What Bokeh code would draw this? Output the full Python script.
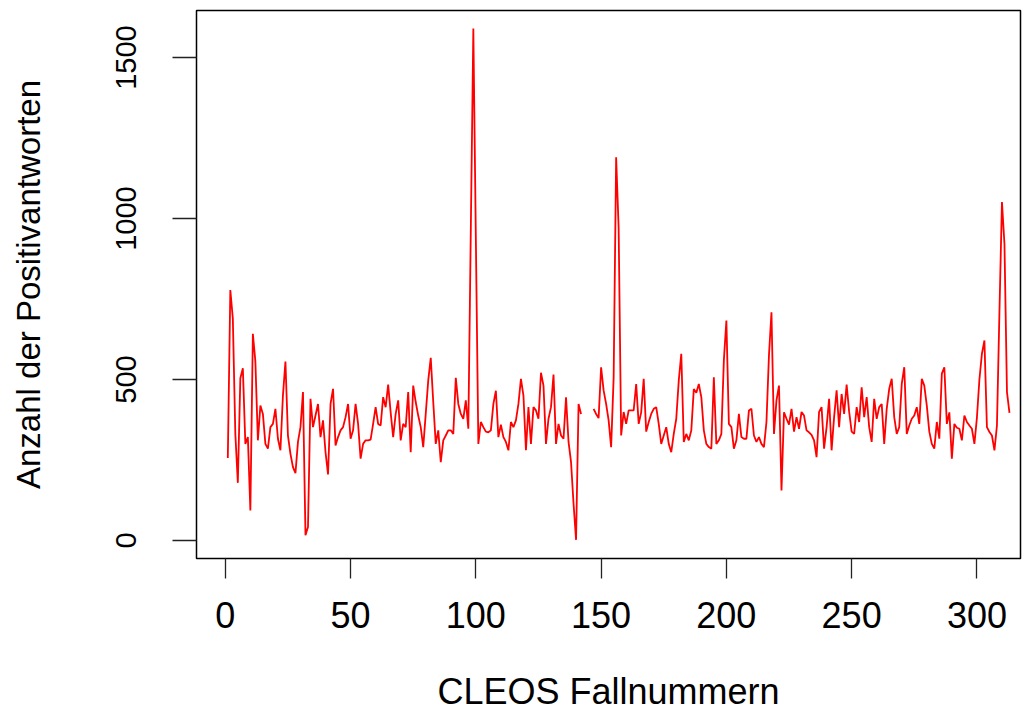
from bokeh.plotting import figure
from bokeh.models import FixedTicker, ColumnDataSource
from bokeh.embed import file_html
from bokeh.resources import INLINE

NaN = float("nan")

case_numbers = list(range(1, 314))
positive_answers = [
    256, 778, 690, 331, 179, 504, 535, 300, 321, 93,
    642, 556, 311, 419, 393, 300, 285, 352, 362, 409,
    316, 280, 450, 556, 326, 269, 228, 209, 306, 352,
    461, 16, 42, 440, 352, 388, 424, 321, 373, 274,
    205, 424, 471, 295, 321, 342, 352, 383, 424, 316,
    342, 424, 362, 254, 300, 311, 311, 313, 362, 414,
    362, 357, 445, 414, 484, 398, 321, 393, 435, 311,
    362, 352, 461, 274, 481, 430, 388, 352, 290, 393,
    497, 567, 430, 300, 342, 243, 311, 326, 342, 342,
    331, 505, 424, 393, 378, 435, 347, 970, 1590, 940,
    300, 368, 352, 338, 336, 342, 424, 465, 321, 360,
    321, 306, 280, 368, 352, 373, 424, 502, 450, 280,
    414, 300, 414, 404, 378, 521, 481, 300, 378, 414,
    515, 300, 362, 326, 316, 445, 306, 243, 114, 2,
    424, 393, NaN, NaN, NaN, NaN, 409, 393, 380, 538,
    466, 424, 373, 290, 505, 1190, 970, 326, 399, 362,
    404, 404, 404, 486, 362, 398, 502, 338, 368, 393,
    409, 414, 362, 300, 326, 352, 300, 274, 331, 378,
    497, 580, 306, 331, 311, 342, 470, 459, 486, 445,
    342, 300, 290, 285, 507, 300, 311, 331, 560, 683,
    362, 352, 285, 311, 393, 321, 316, 316, 404, 409,
    326, 306, 321, 300, 290, 368, 575, 709, 331, 435,
    481, 155, 398, 378, 360, 409, 338, 383, 347, 399,
    388, 342, 336, 328, 311, 259, 399, 414, 285, 352,
    440, 280, 383, 466, 352, 455, 393, 484, 400, 338,
    331, 414, 368, 476, 383, 445, 352, 306, 440, 378,
    414, 424, 300, 409, 471, 502, 383, 331, 352, 486,
    538, 331, 357, 378, 388, 414, 362, 502, 481, 419,
    338, 300, 285, 368, 316, 518, 538, 362, 398, 254,
    362, 350, 347, 311, 388, 368, 357, 347, 300, 381,
    500, 580, 621, 352, 337, 326, 280, 357, 712, 1051,
    921, 461, 396,
]

x_ticks = [0, 50, 100, 150, 200, 250, 300]
y_ticks = [0, 500, 1000, 1500]
x_title = "CLEOS Fallnummern"
y_title = "Anzahl der Positivantworten"

source = ColumnDataSource(data=dict(x=case_numbers, y=positive_answers))

p = figure(
    width=1028, height=715,
    x_range=(-11.5, 317.4), y_range=(-56, 1646),
    output_backend="svg", toolbar_location=None,
    min_border_left=196, min_border_right=8,
    min_border_top=10, min_border_bottom=157,
    background_fill_color="white", border_fill_color="white",
)

p.line("x", "y", source=source, line_color="#ff0000", line_width=1.8)

p.xgrid.visible = False
p.ygrid.visible = False
p.outline_line_color = "black"
p.outline_line_width = 1.5

SANS = "'Liberation Sans', Arial, sans-serif"

xa = p.xaxis[0]
xa.ticker = FixedTicker(ticks=x_ticks)
xa.axis_line_color = None
xa.major_tick_out = 20
xa.major_tick_in = 0
xa.minor_tick_line_color = None
xa.major_tick_line_color = "#222222"
xa.major_tick_line_width = 1.3
xa.major_label_text_font = SANS
xa.major_label_text_font_size = "36px"
xa.major_label_text_color = "black"
xa.major_label_standoff = 23
xa.axis_label = x_title
xa.axis_label_text_font = SANS
xa.axis_label_text_font_size = "36px"
xa.axis_label_text_font_style = "normal"
xa.axis_label_text_color = "black"
xa.axis_label_standoff = 40

ya = p.yaxis[0]
ya.ticker = FixedTicker(ticks=y_ticks)
ya.axis_line_color = None
ya.major_tick_out = 24
ya.major_tick_in = 0
ya.minor_tick_line_color = None
ya.major_tick_line_color = "#222222"
ya.major_tick_line_width = 1.3
ya.major_label_orientation = "vertical"
ya.major_label_text_font = SANS
ya.major_label_text_font_size = "29px"
ya.major_label_text_color = "black"
ya.major_label_standoff = 36
ya.axis_label = y_title
ya.axis_label_text_font = SANS
ya.axis_label_text_font_size = "33px"
ya.axis_label_text_font_style = "normal"
ya.axis_label_text_color = "black"
ya.axis_label_standoff = 67

open("out.html", "w").write(file_html(p, INLINE))
